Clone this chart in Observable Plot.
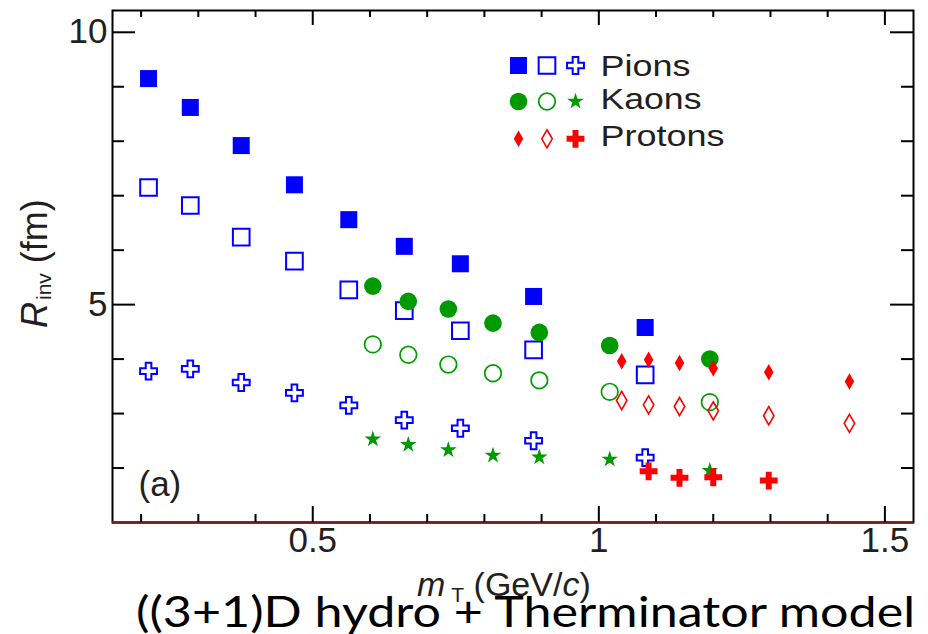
<!DOCTYPE html>
<html><head><meta charset="utf-8">
<script src="https://cdn.jsdelivr.net/npm/d3@7"></script>
<script src="https://cdn.jsdelivr.net/npm/@observablehq/plot@0.6"></script>
<style>body{margin:0;background:#fff} svg{display:block}</style>
</head><body><div id="chart"></div>
<script>
// ---- data ----
const pionMt        = [0.213, 0.286, 0.375, 0.468, 0.563, 0.660, 0.758, 0.886, 1.081];
const pionRFilled   = [9.15, 8.62, 7.92, 7.20, 6.56, 6.07, 5.75, 5.15, 4.58];
const pionROpen     = [7.15, 6.82, 6.24, 5.80, 5.27, 4.89, 4.52, 4.17, 3.71];
const pionRCross    = [3.78, 3.82, 3.57, 3.38, 3.15, 2.88, 2.73, 2.50, 2.19];

const kaonMt        = [0.605, 0.667, 0.737, 0.815, 0.896, 1.019, 1.194];
const kaonRFilled   = [5.34, 5.06, 4.92, 4.66, 4.49, 4.25, 4.00];
const kaonROpen     = [4.27, 4.08, 3.90, 3.74, 3.61, 3.40, 3.21];
const kaonRStar     = [2.53, 2.43, 2.33, 2.23, 2.20, 2.16, 1.95];

const protonMt      = [1.040, 1.087, 1.141, 1.200, 1.297, 1.438];
const protonRFilled = [3.96, 3.99, 3.93, 3.83, 3.76, 3.59];
const protonROpen   = [3.24, 3.16, 3.13, 3.05, 2.96, 2.82];
const protonRCross  = [null, 1.94, 1.82, 1.83, 1.77, null];

const xDomain = [0.15, 1.55];
const yDomain = [1.0, 10.4];
const xMajorTicks = [0.5, 1, 1.5];
const xMinorTicks = [0.2, 0.3, 0.4, 0.6, 0.7, 0.8, 0.9, 1.1, 1.2, 1.3, 1.4];
const yMajorTicks = [5, 10];
const yMinorTicks = [2, 3, 4, 6, 7, 8, 9];
const legendLabels = ["Pions", "Kaons", "Protons"];
const panelLabel = "(a)";
const captionText = "((3+1)D hydro + Therminator model";

// ---- layout / styles ----
const W = 928, H = 634, mL = 112, mR = 15, mT = 10, mB = 112;
const iW = W - mL - mR, iH = H - mT - mB;
const BLUE = "#0000ff", GREEN = "#009a00", RED = "#ff0000", INK = "#231f20";
const FONT = "'Liberation Sans', Arial, Helvetica, sans-serif";

const series = [
  {xs: pionMt,   ys: pionRFilled,   symbol: "square",  fill: BLUE,  stroke: "none", r: 9.6,  sw: 0},
  {xs: pionMt,   ys: pionROpen,     symbol: "square",  fill: "none", stroke: BLUE, r: 9.4,  sw: 2},
  {xs: pionMt,   ys: pionRCross,    symbol: "cross",   fill: "white", stroke: BLUE, r: 7.1,  sw: 2},
  {xs: kaonMt,   ys: kaonRFilled,   symbol: "circle",  fill: GREEN, stroke: "none", r: 8.8,  sw: 0},
  {xs: kaonMt,   ys: kaonROpen,     symbol: "circle",  fill: "none", stroke: GREEN, r: 8.3, sw: 1.7},
  {xs: kaonMt,   ys: kaonRStar,     symbol: "star",    fill: GREEN, stroke: "none", r: 5.2,  sw: 0},
  {xs: protonMt, ys: protonRFilled, symbol: "diamond", fill: RED,   stroke: "none", r: 5.0,  sw: 0},
  {xs: protonMt, ys: protonROpen,   symbol: "diamond", fill: "none", stroke: RED,  r: 5.5,  sw: 1.6},
  {xs: protonMt, ys: protonRCross,  symbol: "cross",   fill: RED,   stroke: "none", r: 7.5,  sw: 0}
];
series.forEach(s => {
  s.data = s.xs.map((x, i) => ({x, y: s.ys[i]})).filter(d => d.y != null);
});

const marks = [];
// frame
marks.push(Plot.frame({stroke: "black", strokeWidth: 2}));
marks.push(Plot.ruleY([yDomain[0]], {y: d => d, stroke: "#6b1d1d", strokeWidth: 2.5}));
// ticks (inward, on all four sides)
const tk = {stroke: "black", strokeWidth: 2};
marks.push(Plot.ruleX(xMinorTicks, {x: d => d, insetTop: iH - 8, ...tk}));
marks.push(Plot.ruleX(xMajorTicks, {x: d => d, insetTop: iH - 16, ...tk}));
marks.push(Plot.ruleX(xMinorTicks, {x: d => d, insetBottom: iH - 7, ...tk}));
marks.push(Plot.ruleX(xMajorTicks, {x: d => d, insetBottom: iH - 15, ...tk}));
marks.push(Plot.ruleY(yMinorTicks, {y: d => d, insetRight: iW - 12, ...tk}));
marks.push(Plot.ruleY(yMajorTicks, {y: d => d, insetRight: iW - 23, ...tk}));
marks.push(Plot.ruleY(yMinorTicks, {y: d => d, insetLeft: iW - 12, ...tk}));
marks.push(Plot.ruleY(yMajorTicks, {y: d => d, insetLeft: iW - 23, ...tk}));
// tick labels
marks.push(Plot.text(xMajorTicks, {x: d => d, frameAnchor: "bottom", text: d => String(d),
  lineAnchor: "top", dy: 5, fontSize: 35, fill: INK}));
marks.push(Plot.text(yMajorTicks, {y: d => d, frameAnchor: "left", text: d => String(d),
  textAnchor: "end", dx: -5, fontSize: 35, fill: INK}));
// panel label
marks.push(Plot.text([panelLabel], {frameAnchor: "bottom-left", text: d => d, textAnchor: "start",
  lineAnchor: "bottom", dx: 26, dy: -27, fontSize: 35, fill: INK}));

// data points
series.forEach(s => {
  marks.push(Plot.dot(s.data, {x: "x", y: "y", symbol: s.symbol, r: s.r,
    fill: s.fill, stroke: s.stroke, strokeWidth: s.sw}));
});

// legend
const colDx = [406, 434.5, 463];
const rowDy = [55, 91, 128.3];
const textDy = [65, 98.7, 135];
const textLen = [90, 101, 124];
series.forEach((s, i) => {
  const row = Math.floor(i / 3), col = i % 3;
  marks.push(Plot.dot([legendLabels[row]], {frameAnchor: "top-left", dx: colDx[col], dy: rowDy[row],
    symbol: s.symbol, r: s.r, fill: s.fill, stroke: s.stroke, strokeWidth: s.sw}));
});
legendLabels.forEach((lab, row) => {
  marks.push(Plot.text([lab], {frameAnchor: "top-left", text: d => d, textAnchor: "start",
    lineAnchor: "bottom", dx: 488, dy: textDy[row], fontSize: 29, fill: INK,
    className: "legend-label-" + row}));
});

const svg = Plot.plot({
  width: W, height: H,
  marginLeft: mL, marginRight: mR, marginTop: mT, marginBottom: mB,
  x: {domain: xDomain, axis: null},
  y: {domain: yDomain, axis: null},
  style: {fontFamily: FONT, background: "white", overflow: "visible"},
  marks
});

// stretch legend labels like the reference
legendLabels.forEach((lab, row) => {
  d3.select(svg).selectAll(".legend-label-" + row + " text")
    .attr("textLength", textLen[row]).attr("lengthAdjust", "spacingAndGlyphs");
});

// axis titles with sub-scripts and caption
const g = d3.select(svg).append("g").attr("fill", INK).attr("font-family", FONT)
  .attr("text-anchor", "start");
const yl = g.append("text").attr("transform", "translate(47,328) rotate(-90)").attr("font-size", 36);
yl.append("tspan").attr("font-style", "italic").text("R");
yl.append("tspan").attr("font-size", 21).attr("dx", 2).attr("dy", 4).text("inv");
yl.append("tspan").attr("dy", -4).text(" (fm)");

const xl = g.append("text").attr("x", 417).attr("y", 596).attr("font-size", 34);
xl.append("tspan").attr("font-style", "italic").text("m");
xl.append("tspan").attr("font-size", 21).attr("dx", 6).attr("dy", 6).text("T");
xl.append("tspan").attr("dy", -6).text(" (GeV/");
xl.append("tspan").attr("font-style", "italic").text("c");
xl.append("tspan").text(")");

g.append("text").attr("x", 136).attr("y", 627).attr("font-size", 42)
  .attr("font-family", "Lato, 'Open Sans', sans-serif").attr("fill", "black")
  .attr("textLength", 779).attr("lengthAdjust", "spacingAndGlyphs")
  .text(captionText);

document.getElementById("chart").appendChild(svg);
</script>
</body></html>
